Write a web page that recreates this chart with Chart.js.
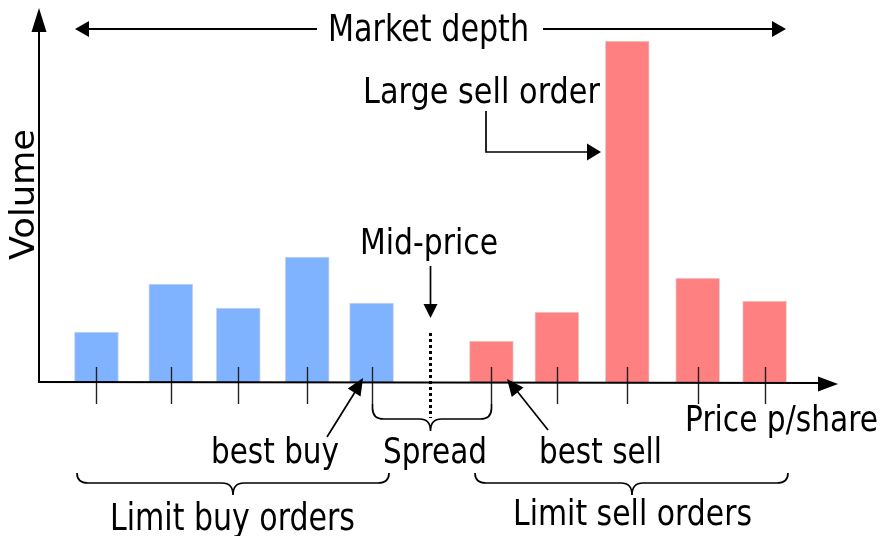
<!DOCTYPE html>
<html>
<head>
<meta charset="utf-8">
<script src="https://cdn.jsdelivr.net/npm/chart.js@4.4.1/dist/chart.umd.min.js"></script>
<style>
  html, body { margin: 0; padding: 0; background: #fff; }
  #wrap { width: 885px; height: 536px; }
</style>
</head>
<body>
<div id="wrap"><canvas id="depth"></canvas></div>
<script>
// order book, price in arbitrary units, volume in arbitrary units
const buyPrices = [5.75, 13.2, 19.95, 26.85, 33.3];
const buyVolumes = [50, 98, 74, 125, 79];
const sellPrices = [45.3, 51.85, 58.9, 65.95, 72.65];
const sellVolumes = [41, 70, 341, 104, 81];
const midPrice = 39.1;

const FONT = '"DejaVu Sans", "Liberation Sans", sans-serif';
const INK = '#000';

// squeeze text into a measured box, the reference uses a narrow face
function fitText(ctx, text, left, right, baseline, size) {
  ctx.save();
  ctx.font = `${size}px ${FONT}`;
  const w = ctx.measureText(text).width;
  ctx.translate(left, baseline);
  ctx.scale((right - left) / w, 1);
  ctx.textAlign = 'left';
  ctx.textBaseline = 'alphabetic';
  ctx.fillStyle = INK;
  ctx.fillText(text, 0, 0);
  ctx.restore();
}

function arrowHead(ctx, tipX, tipY, angle, len, half) {
  ctx.save();
  ctx.translate(tipX, tipY);
  ctx.rotate(angle);
  ctx.beginPath();
  ctx.moveTo(0, 0);
  ctx.lineTo(-len, -half);
  ctx.lineTo(-len, half);
  ctx.closePath();
  ctx.fillStyle = INK;
  ctx.fill();
  ctx.restore();
}

function line(ctx, pts, width, color) {
  ctx.save();
  ctx.beginPath();
  ctx.moveTo(pts[0][0], pts[0][1]);
  for (let i = 1; i < pts.length; i++) ctx.lineTo(pts[i][0], pts[i][1]);
  ctx.lineWidth = width;
  ctx.strokeStyle = color || INK;
  ctx.stroke();
  ctx.restore();
}

function brace(ctx, x1, x2, yEnd, yMid, yTip, xTip) {
  const c = 11;
  ctx.save();
  ctx.beginPath();
  ctx.moveTo(x1, yEnd);
  ctx.lineTo(x1, Math.max(yEnd, yMid - c));
  ctx.quadraticCurveTo(x1, yMid, x1 + c, yMid);
  ctx.lineTo(xTip - c, yMid);
  ctx.quadraticCurveTo(xTip, yMid, xTip, yTip);
  ctx.quadraticCurveTo(xTip, yMid, xTip + c, yMid);
  ctx.lineTo(x2 - c, yMid);
  ctx.quadraticCurveTo(x2, yMid, x2, Math.max(yEnd, yMid - c));
  ctx.lineTo(x2, yEnd);
  ctx.lineWidth = 1.7;
  ctx.strokeStyle = INK;
  ctx.stroke();
  ctx.restore();
}

const annotations = {
  id: 'annotations',
  afterDatasetsDraw(chart) {
    const { ctx, chartArea, scales } = chart;
    const xs = scales.x;
    const left = chartArea.left;
    const base = chartArea.bottom;

    // price ticks under each order
    buyPrices.concat(sellPrices).forEach((p) => {
      const x = Math.round(xs.getPixelForValue(p)) + 0.5;
      line(ctx, [[x, base - 15], [x, base + 22]], 1.4, '#222');
    });

    // axes with arrows
    line(ctx, [[left, base], [left, 30]], 2);
    arrowHead(ctx, left, 8, -Math.PI / 2, 24, 7.5);
    line(ctx, [[left - 1, base], [chartArea.right - 18, base + 1]], 2.2);
    arrowHead(ctx, chartArea.right, base + 2, 0, 20, 7.5);

    fitText(ctx, 'Price p/share', 685, 878, 431, 35);
    ctx.save();
    ctx.translate(34, 0);
    ctx.rotate(-Math.PI / 2);
    fitText(ctx, 'Volume', -260, -129, 0, 33);
    ctx.restore();

    // market depth span
    fitText(ctx, 'Market depth', 328, 529, 41, 38);
    line(ctx, [[85, 29], [317, 29]], 2);
    line(ctx, [[543, 29], [776, 29]], 2);
    arrowHead(ctx, 75, 29, Math.PI, 14, 8);
    arrowHead(ctx, 786, 29, 0, 14, 8);

    // large sell order
    fitText(ctx, 'Large sell order', 363, 600, 103, 36);
    line(ctx, [[486, 111], [486, 152], [590, 152]], 1.7);
    arrowHead(ctx, 601, 152, 0, 14, 8.5);

    // mid-price
    const mx = Math.round(xs.getPixelForValue(midPrice)) + 0.5;
    fitText(ctx, 'Mid-price', 360, 498, 254, 36);
    line(ctx, [[mx, 266], [mx, 306]], 1.7);
    arrowHead(ctx, mx, 318, Math.PI / 2, 14, 7);
    ctx.save();
    ctx.setLineDash([3, 3]);
    line(ctx, [[mx, 333], [mx, 418]], 3);
    ctx.restore();

    // best buy / best sell pointers
    fitText(ctx, 'best buy', 211, 339, 463, 35);
    line(ctx, [[327, 437], [355, 392]], 1.7);
    arrowHead(ctx, 363, 378, Math.atan2(-59, 36), 17, 7.5);
    fitText(ctx, 'best sell', 539, 662, 463, 35);
    line(ctx, [[548, 430], [517, 391]], 1.7);
    arrowHead(ctx, 507, 379, Math.atan2(-51, -41), 17, 7.5);

    // spread brace hangs from the best buy / best sell ticks
    const bb = Math.round(xs.getPixelForValue(buyPrices[buyPrices.length - 1])) + 0.5;
    const bs = Math.round(xs.getPixelForValue(sellPrices[0])) + 0.5;
    brace(ctx, bb, bs, base + 22, 419, 431, mx);
    fitText(ctx, 'Spread', 383, 487, 463, 36);

    // side braces
    brace(ctx, 77, 389, 473, 483, 495, 233);
    fitText(ctx, 'Limit buy orders', 110, 355, 530, 37);
    brace(ctx, 475, 788, 473, 483, 495, 632);
    fitText(ctx, 'Limit sell orders', 513, 752, 525, 36);
  }
};

new Chart(document.getElementById('depth'), {
  type: 'bar',
  data: {
    datasets: [
      {
        label: 'Limit buy orders',
        data: buyPrices.map((p, i) => ({ x: p, y: buyVolumes[i] })),
        backgroundColor: '#80b3ff',
        borderColor: 'rgba(200, 210, 225, 0.9)',
        borderWidth: 1,
        barThickness: 44,
        grouped: false
      },
      {
        label: 'Limit sell orders',
        data: sellPrices.map((p, i) => ({ x: p, y: sellVolumes[i] })),
        backgroundColor: '#ff8080',
        borderColor: 'rgba(225, 205, 205, 0.9)',
        borderWidth: 1,
        barThickness: 44,
        grouped: false
      }
    ]
  },
  options: {
    responsive: true,
    maintainAspectRatio: false,
    animation: false,
    events: [],
    layout: { padding: { left: 39, right: 47, top: 10, bottom: 154 } },
    plugins: {
      legend: { display: false },
      tooltip: { enabled: false }
    },
    scales: {
      x: { type: 'linear', min: 0, max: 80, offset: false, display: false },
      y: { min: 0, max: 372, display: false }
    }
  },
  plugins: [annotations]
});
</script>
</body>
</html>
